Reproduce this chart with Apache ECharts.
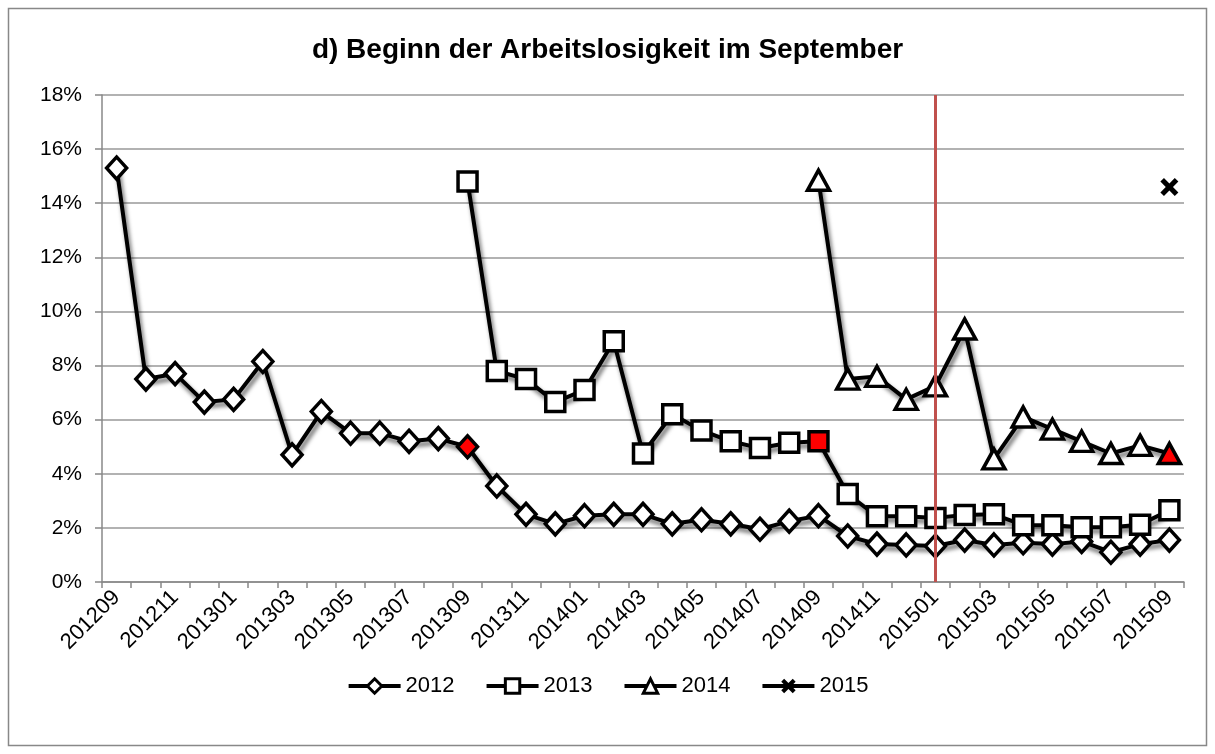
<!DOCTYPE html>
<html>
<head>
<meta charset="utf-8">
<script src="https://cdn.jsdelivr.net/npm/echarts@6/dist/echarts.min.js"></script>
<style>
  html, body { margin: 0; padding: 0; background: #fff; }
  #main { width: 1215px; height: 754px; }
</style>
</head>
<body>
<div id="main"></div>
<script>
// 월별 카테고리 (201209 ~ 201509)
var months = ['201209', '201210', '201211', '201212',
  '201301', '201302', '201303', '201304', '201305', '201306', '201307', '201308', '201309', '201310', '201311', '201312',
  '201401', '201402', '201403', '201404', '201405', '201406', '201407', '201408', '201409', '201410', '201411', '201412',
  '201501', '201502', '201503', '201504', '201505', '201506', '201507', '201508', '201509']

// 각 코호트 값 (%)
var values2012 = [15.3, 7.5, 7.7, 6.65, 6.75, 8.15, 4.7, 6.3, 5.5, 5.5, 5.2, 5.3, 5.0,
  3.55, 2.5, 2.15, 2.45, 2.5, 2.5, 2.15, 2.3, 2.15, 1.95, 2.25, 2.45,
  1.7, 1.4, 1.37, 1.33, 1.55, 1.37, 1.45, 1.4, 1.5, 1.1, 1.4, 1.55]
var values2013 = [14.8, 7.8, 7.5, 6.65, 7.1, 8.9, 4.75, 6.2, 5.6, 5.2, 4.95, 5.15, 5.2,
  3.25, 2.43, 2.43, 2.37, 2.48, 2.5, 2.1, 2.1, 2.02, 2.02, 2.12, 2.65]
var values2014 = [14.85, 7.5, 7.6, 6.75, 7.25, 9.35, 4.55, 6.1, 5.65, 5.2, 4.75, 5.05, 4.75]
var values2015 = [14.6]

// 시작 위치 (201209 기준 인덱스)
var start2012 = 0
var start2013 = 12
var start2014 = 24
var start2015 = 36

var yTicks = [0, 2, 4, 6, 8, 10, 12, 14, 16, 18]

// 빈 앞부분은 null 로 채우기, 12개월째 점은 빨간색
function buildData(start, vals, redIdx) {
  var out = []
  for (var i = 0; i < start; i++) out.push(null)
  vals.forEach(function (v, i) {
    if (i === redIdx) out.push({ value: v, itemStyle: { color: '#ff0000' } })
    else out.push(v)
  })
  return out
}

var crossPath = 'path://M2,0 L5,3 L8,0 L10,2 L7,5 L10,8 L8,10 L5,7 L2,10 L0,8 L3,5 L0,2 Z'

function lineSeries(name, data, symbol, size) {
  return {
    name: name,
    type: 'line',
    data: data,
    symbol: symbol,
    symbolSize: size,
    showAllSymbol: true,
    connectNulls: false,
    lineStyle: {
      color: '#000',
      width: 4,
      shadowColor: 'rgba(0,0,0,0.6)',
      shadowBlur: 4,
      shadowOffsetX: 2,
      shadowOffsetY: 4
    },
    itemStyle: {
      color: '#fff',
      borderColor: '#000',
      borderWidth: 3.5
    },
    emphasis: { disabled: true }
  }
}

var myChart = echarts.init(document.getElementById('main'))

var s2012 = lineSeries('2012', buildData(start2012, values2012, 12), 'diamond', [20, 22])
s2012.markLine = {
  silent: true,
  symbol: 'none',
  label: { show: false },
  lineStyle: { color: '#c0504d', width: 3, type: 'solid', shadowBlur: 0, shadowOffsetY: 0, shadowOffsetX: 0 },
  data: [{ xAxis: '201501' }]
}
var s2013 = lineSeries('2013', buildData(start2013, values2013, 12), 'rect', 19)
var s2014 = lineSeries('2014', buildData(start2014, values2014, 12), 'triangle', [22, 20])
var s2015 = lineSeries('2015', buildData(start2015, values2015, -1), crossPath, 18)
s2015.itemStyle = { color: '#000', borderWidth: 0 }

var option = {
  animation: false,
  textStyle: { fontFamily: 'Liberation Sans, Arial, sans-serif' },
  title: {
    text: 'd) Beginn der Arbeitslosigkeit im September',
    left: 'center',
    top: 31,
    textStyle: { fontSize: 28, fontWeight: 'bold', color: '#000', fontFamily: 'Liberation Sans, Arial, sans-serif' }
  },
  graphic: [{
    type: 'rect',
    shape: { x: 8.5, y: 8.5, width: 1198, height: 737 },
    style: { fill: 'none', stroke: '#888', lineWidth: 1.5 },
    silent: true
  }],
  legend: {
    bottom: 52,
    left: 'center',
    itemWidth: 52,
    itemHeight: 18,
    itemGap: 30,
    lineStyle: { width: 4, shadowBlur: 0, shadowOffsetX: 0, shadowOffsetY: 0 },
    itemStyle: { borderWidth: 3 },
    textStyle: { fontSize: 22, color: '#000' },
    data: ['2012', '2013', '2014', '2015']
  },
  grid: {
    left: 102,
    right: 31,
    top: 95,
    bottom: 172
  },
  xAxis: {
    type: 'category',
    data: months,
    boundaryGap: true,
    axisLine: { lineStyle: { color: '#888', width: 1.5 } },
    axisTick: { show: true, interval: 0, length: 6, lineStyle: { color: '#888', width: 1.5 } },
    axisLabel: { interval: 1, rotate: 45, fontSize: 22, color: '#000', margin: 12 },
    splitLine: { show: false }
  },
  yAxis: {
    type: 'value',
    min: yTicks[0],
    max: yTicks[yTicks.length - 1],
    interval: 2,
    axisLine: { show: true, lineStyle: { color: '#888', width: 1.5 } },
    axisTick: { show: true, inside: false, length: 7, lineStyle: { color: '#888', width: 1.5 } },
    axisLabel: { formatter: '{value}%', fontSize: 21, color: '#000', margin: 20 },
    splitLine: { lineStyle: { color: '#999', width: 1.5 } }
  },
  series: [s2012, s2013, s2014, s2015]
}

myChart.setOption(option)
</script>
</body>
</html>
